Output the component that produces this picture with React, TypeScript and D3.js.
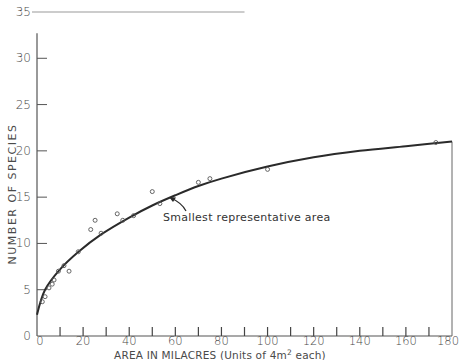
import { useEffect, useRef } from "react"
import * as d3 from "d3"

// observed samples: area (milacres) vs number of species
const sampleArea = [2.3, 3.5, 5.2, 6.6, 7.4, 9.3, 11.7, 13.9, 17.9, 23.3, 25.2, 27.8, 34.8, 37.2, 41.9, 50, 53.3, 70, 75, 100, 173]
const sampleSpecies = [3.7, 4.25, 5.2, 5.6, 6.05, 7.0, 7.6, 7.0, 9.1, 11.5, 12.5, 11.1, 13.2, 12.5, 13.0, 15.6, 14.3, 16.6, 17.0, 18.0, 20.9]

// fitted curve
const curveArea = [0, 3.5, 10, 18, 28, 40, 50, 60, 70, 80, 100, 120, 140, 160, 180]
const curveSpecies = [2.3, 5.0, 7.2, 9.1, 11.0, 12.8, 14.1, 15.2, 16.2, 17.0, 18.3, 19.3, 20.0, 20.5, 21.0]

const xTickMinor = d3.range(0, 181, 10)
const xTickLabels = [0, 20, 40, 60, 80, 100, 120, 140, 160, 180]
const yTickLabels = [0, 5, 10, 15, 20, 25, 30, 35]

const W = 461
const H = 360
const ink = "#2a2a2a"
const textCol = "#4a4a4a"
const font = "'DejaVu Sans', sans-serif"

export default function App() {
  const svgRef = useRef<SVGSVGElement>(null)

  useEffect(() => {
    if (!svgRef.current) return
    document.body.style.margin = "0"
    const svg = d3.select(svgRef.current)
    svg.selectAll("*").remove()

    const x = d3.scaleLinear().domain([0, 180]).range([37, 452])
    const y = d3.scaleLinear().domain([0, 35]).range([336, 12])

    // axes frame
    svg.append("line")
      .attr("x1", x(0)).attr("x2", x(0))
      .attr("y1", y(0)).attr("y2", y(32.7))
      .attr("stroke", "#555").attr("stroke-width", 1.2)
    svg.append("line")
      .attr("x1", x(0)).attr("x2", x(180))
      .attr("y1", y(0)).attr("y2", y(0))
      .attr("stroke", "#555").attr("stroke-width", 1.2)
    svg.append("line")
      .attr("x1", x(180)).attr("x2", x(180))
      .attr("y1", y(0)).attr("y2", y(21))
      .attr("stroke", "#666").attr("stroke-width", 1)
    svg.append("line")
      .attr("x1", x(0) - 5).attr("x2", x(90))
      .attr("y1", y(35)).attr("y2", y(35))
      .attr("stroke", "#bbb").attr("stroke-width", 1.5)

    // y ticks + labels
    const yg = svg.append("g")
    yg.selectAll("line").data(yTickLabels.filter(d => d > 0 && d < 35)).join("line")
      .attr("x1", x(0)).attr("x2", x(0) + 10)
      .attr("y1", d => y(d)).attr("y2", d => y(d))
      .attr("stroke", "#555").attr("stroke-width", 1)
    yg.selectAll("text").data(yTickLabels).join("text")
      .attr("x", 31).attr("y", d => y(d))
      .attr("text-anchor", "end").attr("dominant-baseline", "central")
      .attr("font-family", font).attr("font-size", 12).attr("font-weight", 300)
      .attr("fill", textCol)
      .text(d => d)

    // x ticks + labels
    const xg = svg.append("g")
    xg.selectAll("line").data(xTickMinor.filter(d => d > 0 && d < 180)).join("line")
      .attr("x1", d => x(d)).attr("x2", d => x(d))
      .attr("y1", y(0)).attr("y2", y(0) - 9)
      .attr("stroke", "#444").attr("stroke-width", 1.2)
    xg.selectAll("text").data(xTickLabels).join("text")
      .attr("x", d => x(d) + (d === 0 ? 3 : d === 180 ? -4 : 0)).attr("y", 341)
      .attr("text-anchor", "middle").attr("dominant-baseline", "central")
      .attr("font-family", font).attr("font-size", 11.5).attr("font-weight", 300)
      .attr("fill", textCol)
      .text(d => d)

    // axis titles
    const xt = svg.append("text")
      .attr("x", 220).attr("y", 359)
      .attr("text-anchor", "middle")
      .attr("font-family", font).attr("font-size", 10.5)
      .attr("fill", textCol)
      .attr("letter-spacing", 0.2)
    xt.append("tspan").text("AREA IN MILACRES (Units of 4m")
    xt.append("tspan").attr("dy", -4).attr("font-size", 7.5).text("2")
    xt.append("tspan").attr("dy", 4).text(" each)")

    svg.append("text")
      .attr("transform", `translate(12,194) rotate(-90)`)
      .attr("text-anchor", "middle").attr("dominant-baseline", "central")
      .attr("font-family", font).attr("font-size", 11)
      .attr("fill", textCol)
      .attr("letter-spacing", 1.5)
      .text("NUMBER  OF  SPECIES")

    // fitted curve
    const line = d3.line<number>()
      .x(i => x(curveArea[i]))
      .y(i => y(curveSpecies[i]))
      .curve(d3.curveCatmullRom.alpha(0.5))
    svg.append("path")
      .attr("d", line(d3.range(curveArea.length)) as string)
      .attr("fill", "none").attr("stroke", ink).attr("stroke-width", 2)

    // sample points
    svg.append("g").selectAll("circle").data(d3.range(sampleArea.length)).join("circle")
      .attr("cx", i => x(sampleArea[i])).attr("cy", i => y(sampleSpecies[i]))
      .attr("r", 2)
      .attr("fill", "none").attr("stroke", "#555").attr("stroke-width", 0.9)

    // annotation
    svg.append("text")
      .attr("x", 163).attr("y", 221)
      .attr("font-family", font).attr("font-size", 11)
      .attr("fill", "#333").attr("letter-spacing", 0.3)
      .text("Smallest representative area")
    svg.append("path")
      .attr("d", "M186,211 Q182,203 171,198")
      .attr("fill", "none").attr("stroke", ink).attr("stroke-width", 1.2)
    svg.append("path")
      .attr("d", "M169,197 L176,197.5 L173,202 Z")
      .attr("fill", ink)
  }, [])

  return (
    <svg
      ref={svgRef}
      width={W}
      height={H}
      style={{ display: "block", background: "#fff" }}
    />
  )
}
